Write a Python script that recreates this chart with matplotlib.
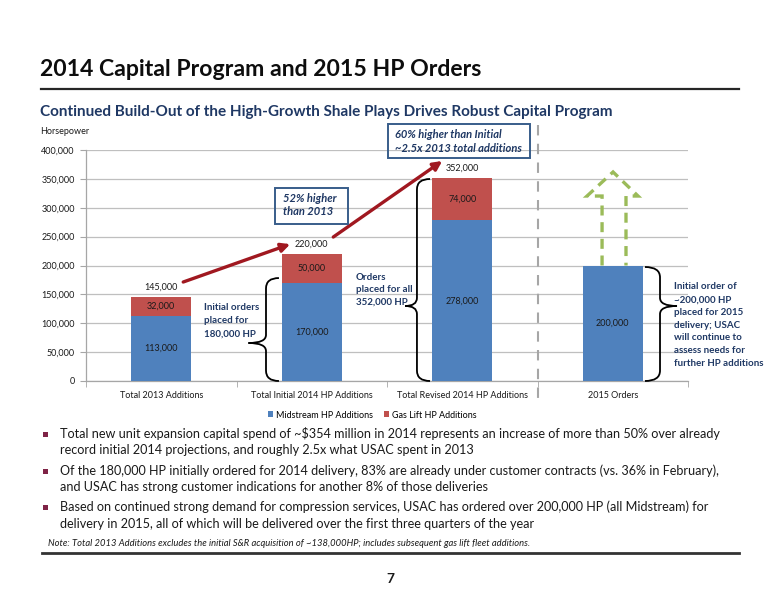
import matplotlib
matplotlib.use("Agg")
import matplotlib.pyplot as plt
from matplotlib.patches import Rectangle, Polygon, PathPatch
from matplotlib.path import Path
from matplotlib.lines import Line2D

plt.rcParams['font.family'] = ['Lato', 'DejaVu Sans']

# ---------------- data ----------------
categories = ["Total 2013 Additions", "Total Initial 2014 HP Additions",
              "Total Revised 2014 HP Additions", "2015 Orders"]
midstream = [113000, 170000, 278000, 200000]
gas_lift = [32000, 50000, 74000, 0]
series_names = ["Midstream HP Additions", "Gas Lift HP Additions"]
y_ticks = [0, 50000, 100000, 150000, 200000, 250000, 300000, 350000, 400000]

title = "2014 Capital Program and 2015 HP Orders"
subtitle = "Continued Build-Out of the High-Growth Shale Plays Drives Robust Capital Program"
bullets = [
    ["Total new unit expansion capital spend of ~$354 million in 2014 represents an increase of more than 50% over already",
     "record initial 2014 projections, and roughly 2.5x what USAC spent in 2013"],
    ["Of the 180,000 HP initially ordered for 2014 delivery, 83% are already under customer contracts (vs. 36% in February),",
     "and USAC has strong customer indications for another 8% of those deliveries"],
    ["Based on continued strong demand for compression services, USAC has ordered over 200,000 HP (all Midstream) for",
     "delivery in 2015, all of which will be delivered over the first three quarters of the year"],
]
note = "Note: Total 2013 Additions excludes the initial S&R acquisition of ~138,000HP; includes subsequent gas lift fleet additions."

BLUE = "#4F81BD"
RED = "#C0504D"
NAVY = "#1F3864"
BOXEDGE = "#385D8A"
ARROW = "#A01820"
GREEN = "#9BBB59"
GRID = "#BFBFBF"

W, H = 776, 600
fig = plt.figure(figsize=(W / 100, H / 100), dpi=100)
renderer = fig.canvas.get_renderer()


def fx(x):
    return x / W


def fy(y):
    return 1 - y / H


def fit(t, width_px):
    w = t.get_window_extent(renderer).width
    t.set_fontsize(t.get_fontsize() * width_px / w)
    return t.get_fontsize()


# ---------------- axes ----------------
ax = fig.add_axes([fx(86), fy(381), (688 - 86) / W, (381 - 150) / H])
x = list(range(len(categories)))
b1 = ax.bar(x, midstream, width=0.4, color=BLUE, zorder=3, label=series_names[0])
b2 = ax.bar(x, gas_lift, width=0.4, bottom=midstream, color=RED, zorder=3, label=series_names[1])
ax.set_xlim(-0.5, 3.5)
ax.set_ylim(0, 400000)
ax.set_yticks(y_ticks)
ax.set_yticklabels([f"{v:,}" for v in y_ticks], fontsize=6.5, color="#1a1a1a")
ax.set_xticks(x)
ax.set_xticklabels(categories, fontsize=6.5, color="#1a1a1a")
ax.set_xticks([i - 0.5 for i in range(len(categories) + 1)], minor=True)
ax.tick_params(axis='x', which='major', length=0, pad=7)
ax.tick_params(axis='x', which='minor', length=4, color="#A6A6A6", direction='out')
ax.tick_params(axis='y', length=4, color="#A6A6A6", pad=4)
ax.grid(axis='y', color=GRID, lw=0.9, zorder=0)
for s in ['top', 'right']:
    ax.spines[s].set_visible(False)
for s in ['left', 'bottom']:
    ax.spines[s].set_color("#A6A6A6")
    ax.spines[s].set_linewidth(0.9)

# segment labels
for i in x:
    ax.text(i, midstream[i] / 2, f"{midstream[i]:,}", ha='center', va='center', fontsize=6.5, color="#1a1a1a", zorder=4)
    if gas_lift[i] > 0:
        ax.text(i, midstream[i] + gas_lift[i] / 2, f"{gas_lift[i]:,}", ha='center', va='center', fontsize=6.5,
                color="#1a1a1a", zorder=4)
        tot = midstream[i] + gas_lift[i]
        ax.annotate(f"{tot:,}", (i, tot), xytext=(0, 7), textcoords='offset points', ha='center', va='center',
                    fontsize=6.5, color="#1a1a1a")

# dashed separator between 2014 and 2015
ax.plot([2.5, 2.5], [443000, -30000], ls=(0, (5, 4)), color="#A6A6A6", lw=1.5, clip_on=False, zorder=2)

# red growth arrows
arrow_kw = dict(arrowstyle='-|>', color=ARROW, lw=2.4, mutation_scale=13, shrinkA=0, shrinkB=0)
ax.annotate('', xy=(0.857, 237000), xytext=(0.146, 171400), arrowprops=arrow_kw, annotation_clip=False)
ax.annotate('', xy=(1.867, 381000), xytext=(1.143, 249300), arrowprops=arrow_kw, annotation_clip=False)

# green dashed hollow arrow above 2015 bar
top2015 = midstream[3] + gas_lift[3]
garrow = Polygon([(2.929, top2015), (2.929, 320300), (2.829, 320300), (3.002, 361900),
                  (3.168, 320300), (3.088, 320300), (3.088, top2015)],
                 closed=False, fill=False, ec=GREEN, lw=2.4, ls=(0, (3, 2)), zorder=4, clip_on=False)
ax.add_patch(garrow)


# braces
def brace(xe, xm, xt, y0, y1, ytip, r=18000, rt=14000):
    verts = [(xe, y0), (xm, y0), (xm, y0 + r),
             (xm, ytip - rt),
             (xm, ytip), (xt, ytip),
             (xm, ytip), (xm, ytip + rt),
             (xm, y1 - r),
             (xm, y1), (xe, y1)]
    codes = [Path.MOVETO, Path.CURVE3, Path.CURVE3, Path.LINETO, Path.CURVE3, Path.CURVE3,
             Path.CURVE3, Path.CURVE3, Path.LINETO, Path.CURVE3, Path.CURVE3]
    ax.add_patch(PathPatch(Path(verts, codes), fill=False, ec='black', lw=1.3, zorder=5, clip_on=False))


brace(0.782, 0.696, 0.580, 0, 178300, 65800)
brace(1.786, 1.699, 1.620, 0, 349800, 129900)
brace(3.214, 3.314, 3.427, 0, 197400, 129900)

# legend
ax.legend(handles=[b1, b2], loc='center', bbox_to_anchor=(fx(372), fy(415)), bbox_transform=fig.transFigure,
          ncol=2, frameon=False, fontsize=6.5, handlelength=0.6, handleheight=0.6, handletextpad=0.3,
          columnspacing=1.2, borderpad=0)

# ---------------- slide text ----------------
t = fig.text(fx(40), fy(70), title, fontsize=20, fontweight='bold', color="#0D0D0D", va='center', ha='left')
fit(t, 440)
fig.add_artist(Line2D([fx(41), fx(739)], [fy(89), fy(89)], color="#262626", lw=1.6))
t = fig.text(fx(40), fy(112), subtitle, fontsize=12, fontweight='bold', color=NAVY, va='center', ha='left')
fit(t, 571)
fig.text(fx(40), fy(132), "Horsepower", fontsize=6.5, color="#1a1a1a", va='center', ha='left')

# callout boxes
fig.add_artist(Rectangle((fx(275), fy(224)), (348 - 275) / W, (224 - 188) / H, transform=fig.transFigure,
                         fill=False, ec=BOXEDGE, lw=1.4))
fig.add_artist(Rectangle((fx(388), fy(158)), (530 - 388) / W, (158 - 124) / H, transform=fig.transFigure,
                         fill=False, ec=BOXEDGE, lw=1.4))
t = fig.text(fx(395), fy(148), "~2.5x 2013 total additions", fontsize=8, fontweight='bold', style='italic',
             color=NAVY, va='center', ha='left')
bfs = fit(t, 127)
fig.text(fx(395), fy(134), "60% higher than Initial", fontsize=bfs, fontweight='bold', style='italic',
         color=NAVY, va='center', ha='left')
fig.text(fx(283), fy(199), "52% higher", fontsize=bfs, fontweight='bold', style='italic',
         color=NAVY, va='center', ha='left')
fig.text(fx(283), fy(212), "than 2013", fontsize=bfs, fontweight='bold', style='italic',
         color=NAVY, va='center', ha='left')

# brace annotations
t = fig.text(fx(674), fy(363), "further HP additions", fontsize=8, fontweight='bold', color=NAVY,
             va='center', ha='left')
afs = fit(t, 90)
right_lines = ["Initial order of", "~200,000 HP", "placed for 2015", "delivery; USAC",
               "will continue to", "assess needs for"]
for k, s in enumerate(right_lines):
    fig.text(fx(674), fy(287 + 12.7 * k), s, fontsize=afs, fontweight='bold', color=NAVY, va='center', ha='left')
for k, s in enumerate(["Initial orders", "placed for", "180,000 HP"]):
    fig.text(fx(204), fy(307 + 13.5 * k), s, fontsize=afs, fontweight='bold', color=NAVY, va='center', ha='left')
for k, s in enumerate(["Orders", "placed for all", "352,000 HP"]):
    fig.text(fx(356), fy(277 + 12.7 * k), s, fontsize=afs, fontweight='bold', color=NAVY, va='center', ha='left')

# bullets
t = fig.text(fx(60), fy(434), bullets[0][0], fontsize=10, color="#1a1a1a", va='center', ha='left')
bfs2 = fit(t, 656)
ys = [[434, 450], [471, 487], [507, 524]]
for i, lines in enumerate(bullets):
    fig.add_artist(Rectangle((fx(43), fy(ys[i][0] + 2.5)), 5 / W, 5 / H, transform=fig.transFigure,
                             color="#7F2346", lw=0))
    for j, s in enumerate(lines):
        if i == 0 and j == 0:
            continue
        fig.text(fx(60), fy(ys[i][j]), s, fontsize=bfs2, color="#1a1a1a", va='center', ha='left')

t = fig.text(fx(48), fy(543), note, fontsize=6, style='italic', color="#1a1a1a", va='center', ha='left')
fit(t, 480)
fig.add_artist(Line2D([fx(42), fx(739)], [fy(553), fy(553)], color="#333333", lw=2))
fig.text(fx(390), fy(579), "7", fontsize=10, fontweight='bold', color="#1a1a1a", va='center', ha='center')

fig.savefig("out.png", dpi=100)
